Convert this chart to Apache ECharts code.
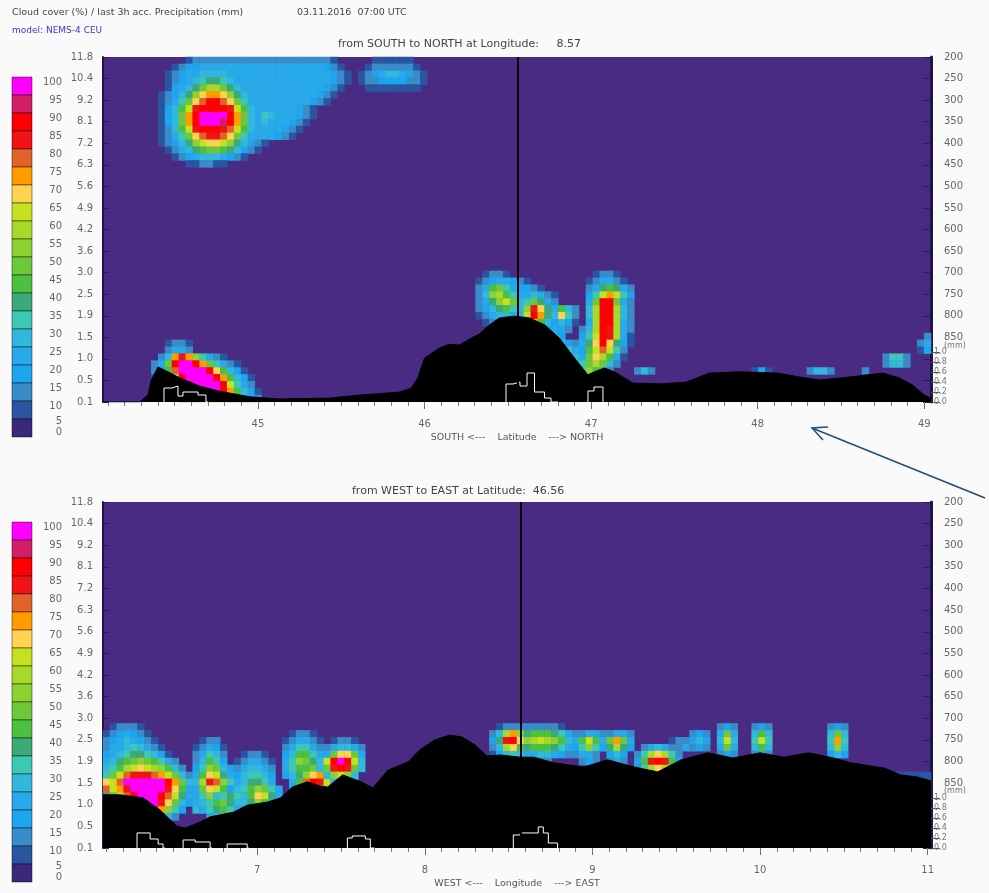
<!DOCTYPE html>
<html><head><meta charset="utf-8">
<script src="https://cdn.jsdelivr.net/npm/echarts@6/dist/echarts.min.js"></script>
<style>html,body{margin:0;padding:0;background:#fafafa;}#chart{width:989px;height:893px;}</style>
</head><body><div id="chart"></div>
<script>
// ---------- data ----------
const CLASS_CHARS = '0123456789abcdefghij';   // class k -> cloud cover 5k..5k+5 %
const cloudColors = ['#4a2b84','#2b55a0','#3a8cc8','#1ea5f0','#28aaea','#32b8dc','#3cc8b4','#3caa78',
  '#4cc040','#6ec83c','#8cd232','#a8d828','#c4e01e','#ffd250','#ff9c00','#e0642a','#f01414','#ff0000','#d21e64','#ff00ff'];
const legendLabels = ['100','95','90','85','80','75','70','65','60','55','50','45','40','35','30','25','20','15','10','5','0'];
const heightLabels = ['11.8','10.4','9.2','8.1','7.2','6.3','5.6','4.9','4.2','3.6','3.0','2.5','1.9','1.5','1.0','0.5','0.1'];
const precipLabelValues = [0, 0.2, 0.4, 0.6, 0.8, 1.0];
const latTicks = [45, 46, 47, 48, 49];
const lonTicks = [7, 8, 9, 10, 11];
const NCOLS = 120, NROWS = 50;   // cloud grid: 120 columns, 50 rows of 16 hPa (200..1000 hPa)

// cloud cover patches: [row, startColumn, classes]
const cloudTop = [
  [0, 12, '1222222222222222222221'], [0, 39, '111111'],
  [1, 10, '1233444444444444444444321'], [1, 38, '12222221'],
  [2, 9, '123445555444444444444444321'], [2, 37, '1234554321'],
  [3, 9, '123456776544444444444444321'], [3, 37, '1223333221'],
  [4, 9, '134579bb975444444444444321'], [4, 38, '11111111'],
  [5, 8, '12357adeeda754444444444321'],
  [6, 8, '12469dfhhfd96444444444321'],
  [7, 8, '1358cghhhhgc85444444321'],
  [8, 8, '1359ehjjjjhe95465444321'],
  [9, 8, '1359ehjjjihe9545444321'],
  [10, 8, '1258cghhhgfc854444321'],
  [11, 8, '12469dfggfd964444321'],
  [12, 8, '12357acddca75321'],
  [13, 9, '12457899875321'],
  [14, 10, '12345554321'],
  [15, 12, '112211'],
  [41, 9, '1221'], [42, 9, '2442'], [43, 8, '25egea6421'], [44, 7, '249hjjhe96421'],
  [45, 7, '248fjjjjhd8531'], [46, 7, '136chjjjjhe8531'], [47, 8, '249fhjjjjhc642'],
  [48, 9, '258cgjjjhe8531'], [49, 11, '358ceec85432'],
  [31, 55, '1221'], [31, 71, '1221'],
  [32, 54, '12344321'], [32, 70, '124421'],
  [33, 54, '2489643321'], [33, 70, '2478742'],
  [34, 54, '25ab86445421'], [34, 70, '36cec63'],
  [35, 54, '247ac9569742'], [35, 70, '49hh942'],
  [36, 54, '2357865agd74852'], [36, 70, '5bhhb52'],
  [37, 54, '1245545che75d62'], [37, 70, '5bhhb52'],
  [38, 55, '1233348b853531'], [38, 70, '4bhhb42'],
  [39, 60, '24543432'], [39, 69, '25bhgb42'],
  [40, 63, '2343'], [40, 69, '36chgb41'],
  [41, 64, '2453247dhd731'], [42, 65, '356438cfc62'], [43, 66, '46549db841'],
  [44, 67, '3569b952'], [45, 68, '36a862'], [46, 69, '4741'],
  [45, 77, '252'], [45, 94, '131'], [45, 102, '2552'], [45, 110, '2'],
  [43, 113, '2662'], [44, 113, '2552'],
  [40, 119, '2'], [41, 118, '24'], [42, 118, '13']
];
const cloudBottom = [
  [32, 1, '12221'], [33, 0, '1234321'], [34, 0, '23454321'], [35, 0, '244565421'],
  [36, 0, '3456776531'], [37, 0, '45789a98642'], [38, 0, '568bcdcba852'], [39, 0, '69cfgggfec952'],
  [40, 0, 'dcfjjjjjjhe953'], [41, 0, 'fcegjjjjjgd842'], [42, 0, '79cfhjjjhfc742'],
  [43, 1, '69dgjjjgd953'], [44, 2, '58cgjhea63'], [45, 3, '47bfc852'], [46, 4, '35753'],
  [34, 14, '122'], [35, 13, '12431'], [36, 13, '24652'], [37, 13, '25863'], [38, 13, '36a953'],
  [39, 13, '48dc74'], [40, 13, '5bgfa6'], [41, 13, '49dc84'], [42, 13, '46a964'], [43, 13, '46886'], [44, 13, '5786'],
  [36, 20, '1221'], [37, 19, '124421'], [38, 19, '245542'], [39, 19, '356653'], [40, 19, '457764'],
  [41, 18, '3568a964'], [42, 16, '567658dc74'], [43, 14, '56897557a852'], [44, 14, '467864456531'], [45, 15, '3564323431'],
  [33, 27, '1221'], [34, 26, '124421'], [35, 26, '246642'], [36, 26, '3588643'], [37, 26, '46a9754'],
  [38, 26, '46889742'], [39, 26, '357ade852'], [40, 27, '48fhgc74'], [41, 27, '47dgeb63'], [42, 27, '3699753'],
  [34, 33, '1221'], [35, 32, '245542'], [36, 32, '49dd94'], [37, 31, '5chjhc5'], [38, 31, '59ghg95'],
  [39, 32, '5aca5'], [40, 33, '5665'], [41, 33, '4554'], [42, 34, '343'],
  [32, 57, '1222222221'], [33, 56, '25bea78887642'], [34, 56, '37ghdabcba852'], [35, 56, '25bd878887642'],
  [36, 56, '135654455432'], [37, 58, '2332222'],
  [33, 69, '2442'], [34, 68, '48c84'], [35, 68, '36a63'], [36, 68, '2442'], [37, 69, '232'],
  [33, 73, '2442'], [34, 72, '49e94'], [35, 72, '37b73'], [36, 73, '353'], [37, 73, '242'],
  [35, 78, '24542'], [36, 77, '26bdb62'], [37, 77, '38ghg83'], [38, 77, '26bdb62'], [39, 78, '2442'],
  [34, 82, '1221'], [35, 83, '243'],
  [33, 85, '232'], [34, 85, '353'], [35, 85, '232'],
  [32, 89, '232'], [33, 89, '494'], [34, 89, '5c5'], [35, 89, '494'], [36, 89, '232'],
  [32, 94, '232'], [33, 94, '585'], [34, 94, '6c6'], [35, 94, '585'], [36, 94, '242'],
  [32, 105, '232'], [33, 105, '595'], [34, 105, '6e6'], [35, 105, '5a5'], [36, 105, '353'],
  [39, 114, '111111'], [40, 113, '1111111'], [41, 114, '111111']
];

// terrain (surface pressure, hPa) along the sections
const terrainTopLat = [44.07,44.29,44.34,44.36,44.40,44.44,44.53,44.65,44.77,44.95,45.13,45.43,45.61,45.85,45.92,45.96,
  46.00,46.09,46.15,46.21,46.27,46.33,46.39,46.45,46.54,46.63,46.72,46.81,46.90,46.98,47.02,47.08,47.14,47.25,47.41,
  47.57,47.71,47.89,48.12,48.25,48.37,48.55,48.75,48.85,48.93,49.00,49.04];
const terrainTopP = [1000,1000,984,949,919,926,944,963,975,988,993,991,984,977,968,944,
  898,875,866,868,854,842,821,805,801,805,821,852,898,937,930,921,930,956,958,
  954,933,930,933,942,949,942,933,944,961,984,991];
const terrainBotLon = [6.08,6.18,6.32,6.42,6.52,6.57,6.66,6.72,6.86,6.94,7.06,7.14,7.21,7.30,7.38,7.42,7.51,7.62,7.69,
  7.78,7.90,7.97,8.06,8.15,8.22,8.30,8.37,8.45,8.57,8.65,8.77,8.95,9.09,9.25,9.39,9.53,9.69,9.84,10.00,10.14,10.29,
  10.44,10.54,10.74,10.84,10.94,11.02];
const terrainBotP = [877,877,884,912,949,954,940,928,917,901,894,884,859,847,857,859,831,847,861,
  820,801,773,750,739,743,762,787,785,790,790,803,813,796,813,824,796,780,792,780,790,780,
  792,803,815,831,836,845];

// 3h precipitation (mm), step outlines
const precipTop = [
  [44.436,0],[44.436,0.28],[44.484,0.32],[44.52,0.12],[44.55,0.2],[44.64,0.14],[44.688,0],[44.70,'-'],
  [46.489,0],[46.489,0.36],[46.531,0.4],[46.573,0.32],[46.615,0.58],[46.66,0.2],[46.72,0.08],[46.759,0],[46.80,'-'],
  [46.981,0],[46.981,0.22],[47.017,0.3],[47.071,0]
];
const precipBottom = [
  [6.283,0],[6.283,0.3],[6.361,0.18],[6.409,0.08],[6.438,0],[6.45,'-'],
  [6.558,0],[6.558,0.16],[6.63,0.12],[6.719,0],[6.73,'-'],
  [6.821,0],[6.821,0.08],[6.94,0],[6.95,'-'],
  [7.538,0],[7.538,0.2],[7.567,0.24],[7.645,0.18],[7.675,0],[7.70,'-'],
  [8.528,0],[8.528,0.26],[8.57,0.3],[8.677,0.42],[8.707,0.3],[8.737,0.1],[8.792,0]
];

// ---------- build ----------
const F = 'DejaVu Sans';
function decode(patches) {
  const out = [];
  patches.forEach(([row, col, s]) => {
    for (let i = 0; i < s.length; i++) {
      const k = CLASS_CHARS.indexOf(s[i]);
      if (k > 0) out.push([col + i, row, k * 5 + 2.5]);
    }
  });
  return out;
}
const colCats = Array.from({length: NCOLS}, (_, i) => String(i));
const rowCats = Array.from({length: NROWS}, (_, i) => String(i));

const panels = [
  {top: 57, height: 345, xmin: 44.07, xmax: 49.04, ticks: latTicks, name: 'SOUTH <---    Latitude    ---> NORTH',
   cut: 46.56, cloud: cloudTop, tx: terrainTopLat, tp: terrainTopP, precip: precipTop,
   title: 'from SOUTH to NORTH at Longitude:     8.57', titleX: 338, titleY: 44},
  {top: 502, height: 346, xmin: 6.08, xmax: 11.02, ticks: lonTicks, name: 'WEST <---    Longitude    ---> EAST',
   cut: 8.57, cloud: cloudBottom, tx: terrainBotLon, tp: terrainBotP, precip: precipBottom,
   title: 'from WEST to EAST at Latitude:  46.56', titleX: 352, titleY: 491}
];

const grid = [], xAxis = [], yAxis = [], series = [], graphic = [];
const labelStyle = {color: '#666', fontSize: 10, fontFamily: F};

panels.forEach((P, g) => {
  grid.push({left: 103, top: P.top, width: 828, height: P.height, show: true,
             backgroundColor: cloudColors[0], borderWidth: 0, containLabel: false});
  const minor = [];
  for (let v = Math.ceil(P.xmin * 10); v <= Math.floor(P.xmax * 10); v++) minor.push(v / 10);
  xAxis.push({type: 'category', gridIndex: g, data: colCats, show: false, boundaryGap: true});
  xAxis.push({type: 'value', gridIndex: g, min: P.xmin, max: P.xmax, position: 'bottom',
    axisLine: {show: false}, splitLine: {show: false},
    axisTick: {show: true, customValues: P.ticks, length: 7, lineStyle: {color: '#666'}},
    axisLabel: {customValues: P.ticks, margin: 17, ...labelStyle},
    name: P.name, nameLocation: 'middle', nameGap: 31,
    nameTextStyle: {color: '#555', fontSize: 9.5, fontFamily: F}});
  xAxis.push({type: 'value', gridIndex: g, min: P.xmin, max: P.xmax, position: 'bottom',
    axisLine: {show: false}, splitLine: {show: false},
    axisTick: {show: true, customValues: minor, length: 4, lineStyle: {color: '#777'}},
    axisLabel: {show: false}});

  yAxis.push({type: 'category', gridIndex: g, data: rowCats, inverse: true, show: false});
  yAxis.push({type: 'value', gridIndex: g, min: 200, max: 1000, interval: 50, inverse: true, position: 'left',
    axisLine: {show: true, lineStyle: {color: '#1e1448', width: 2}},
    axisTick: {show: true, inside: true, length: 6, lineStyle: {color: '#2a1d60'}},
    splitLine: {show: false},
    axisLabel: {formatter: v => heightLabels[Math.round((v - 200) / 50)] || '', margin: 10, ...labelStyle}});
  yAxis.push({type: 'value', gridIndex: g, min: 200, max: 1000, interval: 50, inverse: true, position: 'right',
    axisLine: {show: true, lineStyle: {color: '#1e1448', width: 3}},
    axisTick: {show: true, inside: true, length: 8, lineStyle: {color: '#2a1d60'}},
    splitLine: {show: false},
    axisLabel: {formatter: v => (v <= 850 ? String(v) : ''), margin: 13, ...labelStyle}});
  yAxis.push({type: 'value', gridIndex: g, min: 0, max: 6.9, position: 'right',
    axisLine: {show: false}, splitLine: {show: false},
    axisTick: {show: true, customValues: precipLabelValues, length: 9, lineStyle: {color: '#555'}},
    axisLabel: {customValues: precipLabelValues, formatter: v => v.toFixed(1), margin: 3,
                color: '#777', fontSize: 8, fontFamily: F}});

  const xi = g * 3, yi = g * 4;
  series.push({type: 'heatmap', xAxisIndex: xi, yAxisIndex: yi, data: decode(P.cloud),
    itemStyle: {borderWidth: 0}, emphasis: {disabled: true}, progressive: 0, silent: true, z: 1});
  series.push({type: 'line', xAxisIndex: xi + 1, yAxisIndex: yi + 1,
    data: P.tx.map((x, i) => [x, P.tp[i]]), symbol: 'none', silent: true, z: 3,
    lineStyle: {color: '#000', width: 1}, areaStyle: {color: '#000', opacity: 1, origin: 'end'},
    markLine: {symbol: ['none', 'none'], silent: true, label: {show: false},
      lineStyle: {color: '#000', width: 2, type: 'solid'}, data: [{xAxis: P.cut}]}});
  series.push({type: 'line', step: 'end', xAxisIndex: xi + 1, yAxisIndex: yi + 3, data: P.precip,
    symbol: 'none', silent: true, connectNulls: false, z: 4, lineStyle: {color: '#fff', width: 1}});

  // colour legend
  const off = P.top - 57;
  for (let k = 19; k >= 0; k--) {
    graphic.push({type: 'rect', shape: {x: 12, y: 77 + off + (19 - k) * 18, width: 20, height: 18},
      style: {fill: k === 0 ? '#3c2878' : cloudColors[k], stroke: 'rgba(0,0,0,0.55)', lineWidth: 0.8}, silent: true});
  }
  legendLabels.forEach((t, i) => {
    let y = 82 + off + 18 * i;
    if (i === 19) y = 421 + off;
    if (i === 20) y = 432 + off;
    graphic.push({type: 'text', x: 62, y: y, silent: true,
      style: {text: t, fill: '#666', font: '10px "' + F + '"', textAlign: 'right', textVerticalAlign: 'middle'}});
  });
  graphic.push({type: 'text', x: 944, y: 346 + off, silent: true,
    style: {text: '(mm)', fill: '#777', font: '8px "' + F + '"', textAlign: 'left', textVerticalAlign: 'middle'}});
  graphic.push({type: 'text', x: P.titleX, y: P.titleY, silent: true,
    style: {text: P.title, fill: '#444', font: '11px "' + F + '"', textAlign: 'left', textVerticalAlign: 'middle'}});
});

graphic.push({type: 'text', x: 12, y: 13, silent: true,
  style: {text: 'Cloud cover (%) / last 3h acc. Precipitation (mm)', fill: '#444', font: '9.5px "' + F + '"', textVerticalAlign: 'middle'}});
graphic.push({type: 'text', x: 297, y: 13, silent: true,
  style: {text: '03.11.2016  07:00 UTC', fill: '#444', font: '9.5px "' + F + '"', textVerticalAlign: 'middle'}});
graphic.push({type: 'text', x: 12, y: 31, silent: true,
  style: {text: 'model: NEMS-4 CEU', fill: '#3a3ad0', font: '9px "' + F + '"', textVerticalAlign: 'middle'}});
// annotation arrow
graphic.push({type: 'polyline', silent: true, shape: {points: [[985, 498], [812, 428]]},
  style: {stroke: '#1f4e79', lineWidth: 1.5, fill: null}, z: 100});
graphic.push({type: 'polyline', silent: true, shape: {points: [[823, 440], [812, 428], [828, 427]]},
  style: {stroke: '#1f4e79', lineWidth: 1.5, fill: null}, z: 100});

const chart = echarts.init(document.getElementById('chart'), null, {renderer: 'canvas'});
chart.setOption({
  backgroundColor: '#fafafa',
  animation: false,
  grid, xAxis, yAxis, series, graphic,
  visualMap: [{type: 'piecewise', show: false, seriesIndex: [0, 3], dimension: 2,
    pieces: cloudColors.map((c, k) => ({gte: 5 * k, lt: 5 * k + 5, color: c}))}]
});
</script></body></html>
